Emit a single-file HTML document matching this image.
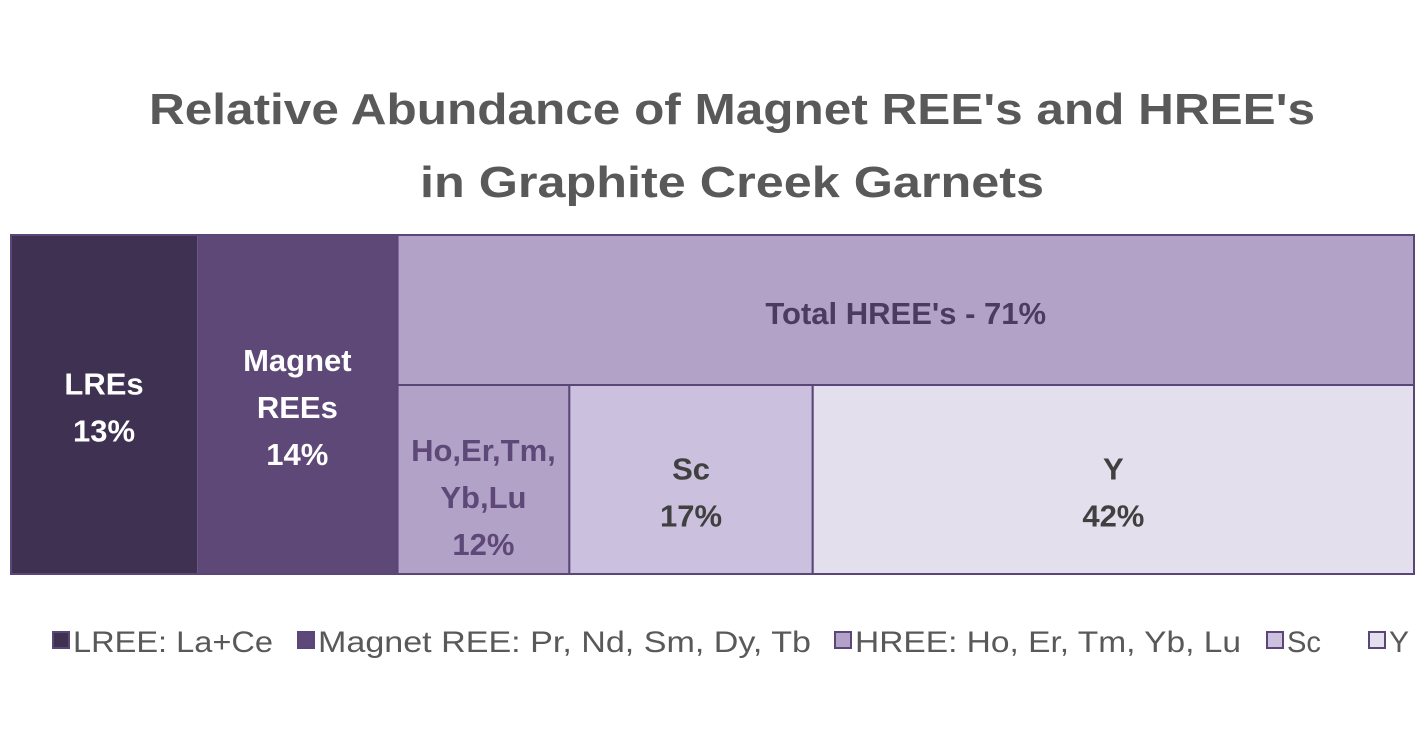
<!DOCTYPE html>
<html><head><meta charset="utf-8"><style>
html,body{margin:0;padding:0;background:#fff;}
svg{display:block;font-family:"Liberation Sans",sans-serif;}
</style></head><body>
<svg id="chart" width="1428" height="749" viewBox="0 0 1428 749">
<text x="732" y="124" text-anchor="middle" font-size="44" font-weight="bold" fill="#595959" textLength="1166" lengthAdjust="spacingAndGlyphs">Relative Abundance of Magnet REE's and HREE's</text>
<text x="732" y="197" text-anchor="middle" font-size="44" font-weight="bold" fill="#595959" textLength="624" lengthAdjust="spacingAndGlyphs">in Graphite Creek Garnets</text>
<g id="cells"></g>
<g id="legend"></g>
</svg>
<script>
const topNames = ["LRE", "Magnet", "HREE"];
const topValues = [13, 14, 71];
const hreeNames = ["Ho,Er,Tm,Yb,Lu", "Sc", "Y"];
const hreeValues = [12, 17, 42];
const legendLabels = ["LREE: La+Ce", "Magnet REE: Pr, Nd, Sm, Dy, Tb", "HREE: Ho, Er, Tm, Yb, Lu", "Sc", "Y"];

const NS = "http://www.w3.org/2000/svg";
const X0 = 11, X1 = 1414, Y0 = 235, Y1 = 574, YMID = 385;
const FS = 31, LH = 47;
const cells = document.getElementById("cells");
function mk(tag, attrs, parent){const e=document.createElementNS(NS,tag);for(const k in attrs)e.setAttribute(k,attrs[k]);parent.appendChild(e);return e;}
function txt(lines, cx, cy, color, parent){
  const start = cy - (lines.length-1)*LH/2 + FS*0.36;
  lines.forEach((l,i)=>{const t=mk("text",{x:cx,y:start+i*LH,"text-anchor":"middle","font-size":FS,"font-weight":"bold",fill:color},parent);t.textContent=l;
  
  });
}
const topSum = topValues.reduce((a,b)=>a+b,0);
const xScale = v => v/topSum*(X1-X0);
let x = X0;
const topColors = ["#3f3152", "#5e4878", "#b2a2c8"];
const topLabels = [["LREs", topValues[0]+"%"], ["Magnet","REEs", topValues[1]+"%"], ["Total HREE's - "+topValues[2]+"%"]];
const topBoxes = [];
topValues.forEach((v,i)=>{
  const w = xScale(v);
  const h = i===2 ? YMID-Y0 : Y1-Y0;
  const r = mk("rect",{x:x,y:Y0,width:w,height:h,fill:topColors[i],stroke:i===2?"#5b467a":"none","stroke-width":2},cells);
  
  
  topBoxes.push([x,w]);
  if(i<2) txt(topLabels[i], x+w/2, 407, "#ffffff", cells);
  else txt(topLabels[i], x+w/2, 313, "#4a3c5f", cells);
  x += w;
});
const hx0 = topBoxes[2][0], hw = topBoxes[2][1];
const hSum = hreeValues.reduce((a,b)=>a+b,0);
const hColors = ["#b2a2c8","#cbc0dd","#e4dfec"];
const hTextCol = ["#5e4878","#404040","#404040"];
let hx = hx0;
hreeValues.forEach((v,i)=>{
  const w = v/hSum*hw;
  const r = mk("rect",{x:hx,y:YMID,width:w,height:Y1-YMID,fill:hColors[i],stroke:"#5b467a","stroke-width":2},cells);
  
  
  const lines = i===0 ? ["Ho,Er,Tm,","Yb,Lu", v+"%"] : [hreeNames[i], v+"%"];
  txt(lines, hx+w/2, i===0?497:492, hTextCol[i], cells);
  hx += w;
});
const outer = mk("rect",{x:X0,y:Y0,width:X1-X0,height:Y1-Y0,fill:"none",stroke:"#5b467a","stroke-width":2},cells);



const legend = document.getElementById("legend");
const legColors = ["#3f3152","#5e4878","#b2a2c8","#cbc0dd","#e4dfec"];
const legX = [52, 297, 834, 1266, 1368];
const legW = [200, 493, 386, 34, 20];
legendLabels.forEach((l,i)=>{
  const g = mk("g",{},legend);
  
  
  mk("rect",{x:legX[i]+1,y:632,width:16,height:16,fill:legColors[i],stroke:"#5b467a","stroke-width":2},g);
  const t = mk("text",{x:legX[i]+21,y:652,"font-size":30,fill:"#595959",textLength:legW[i],lengthAdjust:"spacingAndGlyphs"},g);
  t.textContent = l;
});
</script>
</body></html>
